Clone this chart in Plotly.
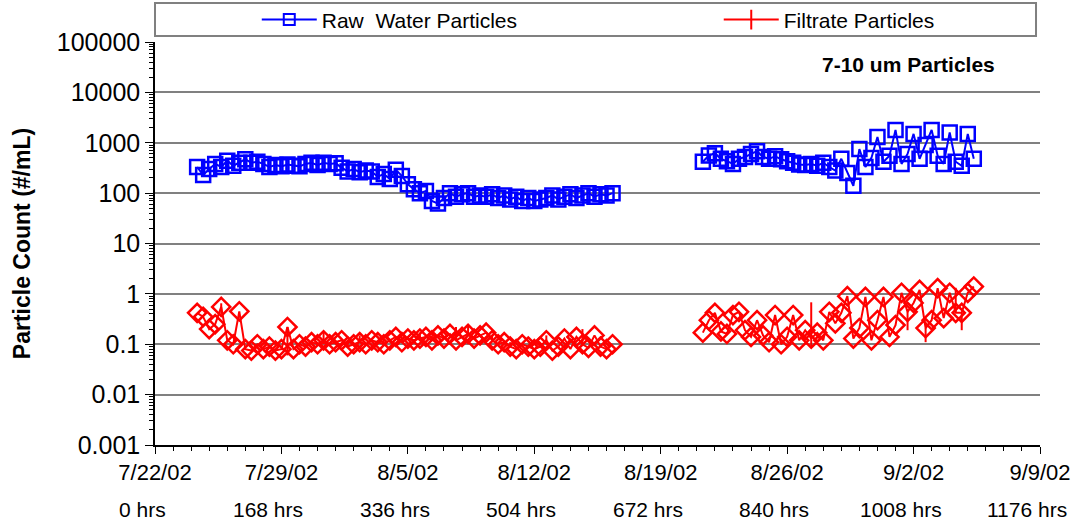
import plotly.graph_objects as go

# Sampling schedule (hours from start of run, 8-hour readings)
hours_run1 = list(range(56, 612, 8))
hours_run2 = list(range(728, 1096, 8))

raw_run1 = [330, 230, 300, 380, 330, 440, 350, 400, 470, 400,
            420, 380, 330, 360, 340, 370, 350, 340, 380, 400,
            360, 400, 380, 390, 320, 270, 300, 260, 280, 270,
            210, 240, 190, 290, 220, 150, 120, 100, 110, 70,
            62, 80, 100, 85, 95, 100, 85, 90, 85, 95,
            80, 90, 75, 85, 70, 80, 70, 75, 80, 90,
            75, 85, 95, 80, 90, 100, 85, 95, 90, 100]

raw_run2 = [420, 560, 620, 480, 430, 380, 480, 520, 600, 680,
            520, 480, 540, 470, 430, 400, 370, 360, 380, 350,
            400, 330, 280, 480, 250, 140, 750, 330, 500, 1300,
            420, 550, 1800, 380, 600, 1500, 480, 900, 1800, 550,
            380, 1600, 420, 350, 1500, 480]

filt_run1 = [0.42, 0.35, 0.20, 0.25, 0.55, 0.12, 0.10, 0.45, 0.08, 0.075,
             0.10, 0.08, 0.09, 0.075, 0.08, 0.22, 0.08, 0.10, 0.09, 0.11,
             0.10, 0.12, 0.10, 0.11, 0.12, 0.09, 0.10, 0.11, 0.10, 0.12,
             0.11, 0.10, 0.12, 0.14, 0.11, 0.13, 0.12, 0.13, 0.14, 0.12,
             0.15, 0.13, 0.16, 0.12, 0.14, 0.16, 0.13, 0.15, 0.17, 0.12,
             0.10, 0.11, 0.09, 0.08, 0.10, 0.09, 0.08, 0.09, 0.12, 0.075,
             0.09, 0.13, 0.08, 0.14, 0.10, 0.085, 0.15, 0.09, 0.08, 0.10]

filt_run2 = [0.17, 0.30, 0.42, 0.18, 0.16, 0.38, 0.44, 0.19, 0.14, 0.30,
             0.15, 0.11, 0.38, 0.10, 0.14, 0.38, 0.12, 0.19, 0.13, 0.17,
             0.12, 0.44, 0.26, 0.42, 0.90, 0.13, 0.21, 0.87, 0.12, 0.30,
             0.87, 0.14, 0.24, 1.05, 0.44, 0.66, 1.20, 0.21, 0.30, 1.30,
             0.33, 1.05, 0.42, 0.42, 1.05, 1.40]

# Spread of filtrate readings (upper / lower)
filt_run1_up = [0, 0, 0, 0, 0.10, 0, 0, 0, 0, 0,
                0, 0, 0, 0, 0, 0, 0, 0, 0, 0,
                0, 0.05, 0, 0, 0, 0.03, 0, 0.04, 0, 0,
                0, 0.03, 0, 0, 0.03, 0, 0, 0.04, 0, 0.03,
                0, 0, 0, 0.10, 0, 0.08, 0, 0, 0, 0.03,
                0, 0, 0.02, 0, 0, 0, 0, 0, 0.03, 0,
                0, 0, 0, 0, 0.10, 0, 0, 0, 0, 0]
filt_run1_dn = [0, 0, 0, 0, 0.15, 0, 0, 0, 0, 0,
                0, 0, 0, 0, 0, 0.16, 0, 0, 0, 0,
                0, 0.02, 0, 0, 0, 0, 0, 0, 0, 0,
                0, 0, 0, 0, 0, 0, 0, 0, 0, 0,
                0, 0, 0, 0, 0, 0, 0, 0, 0, 0,
                0, 0, 0, 0, 0, 0, 0, 0, 0, 0,
                0, 0, 0, 0, 0, 0, 0, 0, 0, 0]
filt_run2_up = [0, 0, 0, 0, 0, 0, 0, 0, 0, 0,
                0, 0, 0, 0, 0, 0, 0, 0, 0.55, 0,
                0, 0, 0, 0, 0, 0, 0, 0, 0, 0,
                0, 0, 0, 0, 0, 0, 0, 0, 0, 0,
                0, 0, 0.90, 0, 0, 0]
filt_run2_dn = [0, 0, 0, 0, 0, 0, 0, 0, 0, 0,
                0, 0, 0, 0, 0, 0, 0, 0, 0.04, 0,
                0, 0, 0, 0, 0, 0, 0, 0, 0, 0,
                0, 0, 0, 0, 0.25, 0, 0, 0.10, 0, 0,
                0, 0, 0, 0.23, 0, 0]

tick_hours = [0, 168, 336, 504, 672, 840, 1008, 1176]
tick_dates = ["7/22/02", "7/29/02", "8/5/02", "8/12/02",
              "8/19/02", "8/26/02", "9/2/02", "9/9/02"]
tick_hrs = ["0 hrs", "168 hrs", "336 hrs", "504 hrs",
            "672 hrs", "840 hrs", "1008 hrs", "1176 hrs"]

y_tickvals = [0.001, 0.01, 0.1, 1, 10, 100, 1000, 10000, 100000]
y_ticktext = ["0.001", "0.01", "0.1", "1", "10", "100", "1000", "10000", "100000"]

BLUE = "#0000FF"
RED = "#FF0000"
FONT = "Liberation Sans, Arial, sans-serif"

fig = go.Figure()

for hrs, vals in [(hours_run1, raw_run1), (hours_run2, raw_run2)]:
    fig.add_trace(go.Scatter(
        x=hrs, y=vals, mode="lines+markers", showlegend=False,
        line=dict(color=BLUE, width=2),
        marker=dict(symbol="square-open", size=14, color=BLUE,
                    line=dict(color=BLUE, width=2.5)),
    ))

for hrs, vals, up, dn in [(hours_run1, filt_run1, filt_run1_up, filt_run1_dn),
                          (hours_run2, filt_run2, filt_run2_up, filt_run2_dn)]:
    fig.add_trace(go.Scatter(
        x=hrs, y=vals, mode="lines+markers", showlegend=False,
        line=dict(color=RED, width=2),
        marker=dict(symbol="diamond-open", size=14, color=RED,
                    line=dict(color=RED, width=2.5)),
        error_y=dict(type="data", array=up, arrayminus=dn, symmetric=False,
                     color=RED, thickness=2, width=0),
    ))

# Legend entries
fig.add_trace(go.Scatter(
    x=[None], y=[None], mode="lines+markers", name="Raw  Water Particles",
    legend="legend",
    line=dict(color=BLUE, width=2),
    marker=dict(symbol="square-open", size=11, color=BLUE, line=dict(color=BLUE, width=2)),
))
fig.add_trace(go.Scatter(
    x=[None], y=[None], mode="lines+markers", name="Filtrate Particles",
    legend="legend2",
    line=dict(color=RED, width=2),
    marker=dict(symbol="line-ns-open", size=14, color=RED, line=dict(color=RED, width=2)),
))

# "hrs" row under the date labels
for h, t in zip(tick_hours, tick_hrs):
    fig.add_annotation(x=h, y=-0.159, xref="x", yref="paper", text=t,
                       showarrow=False, xanchor="center", yanchor="middle",
                       xshift=-13,
                       font=dict(family=FONT, size=21, color="black"))

fig.add_annotation(x=0.951, y=0.945, xref="paper", yref="paper",
                   text="<b>7-10 um Particles</b>", showarrow=False,
                   xanchor="right", yanchor="middle",
                   font=dict(family=FONT, size=21, color="black"))

# Legend frame spanning the plot width
fig.add_shape(type="rect", xref="paper", yref="paper",
              x0=0.0, x1=0.9955, y0=1.0149, y1=1.0968,
              line=dict(color="#808080", width=2), fillcolor="rgba(0,0,0,0)")

legend_common = dict(orientation="h", yref="container", y=0.962,
                     xanchor="left", yanchor="middle", itemwidth=55,
                     font=dict(family=FONT, size=21, color="black"),
                     bgcolor="rgba(0,0,0,0)", borderwidth=0)

fig.update_layout(
    width=1076, height=525,
    margin=dict(l=155, r=36, t=42, b=80, autoexpand=False),
    paper_bgcolor="white", plot_bgcolor="white",
    font=dict(family=FONT, color="black"),
    showlegend=True,
    legend=dict(x=0.115, **legend_common),
    legend2=dict(x=0.637, **legend_common),
    xaxis=dict(
        range=[0, 1176], tickmode="array", tickvals=tick_hours, ticktext=tick_dates,
        showgrid=False, zeroline=False, automargin=False,
        showline=True, linecolor="black", linewidth=1.5,
        ticks="outside", ticklen=7, tickwidth=1.2, tickcolor="black",
        tickfont=dict(family=FONT, size=22, color="black"),
        minor=dict(dtick=24, tick0=0, ticks="outside", ticklen=4,
                   tickcolor="black", tickwidth=1, showgrid=False),
    ),
    yaxis=dict(
        type="log", range=[-3, 5], tickmode="array",
        tickvals=y_tickvals, ticktext=y_ticktext, automargin=False,
        showgrid=True, gridcolor="#808080", gridwidth=1.5, zeroline=False,
        showline=True, linecolor="black", linewidth=1.5,
        ticks="outside", ticklen=8, tickwidth=1.2, tickcolor="black",
        tickfont=dict(family=FONT, size=25, color="black"),
        minor=dict(dtick="D1", ticks="outside", ticklen=4,
                   tickcolor="black", tickwidth=1, showgrid=False),
        title=dict(text="<b>Particle Count (#/mL)</b>", standoff=20,
                   font=dict(family=FONT, size=23, color="black")),
    ),
)

fig.write_html("out.html")
